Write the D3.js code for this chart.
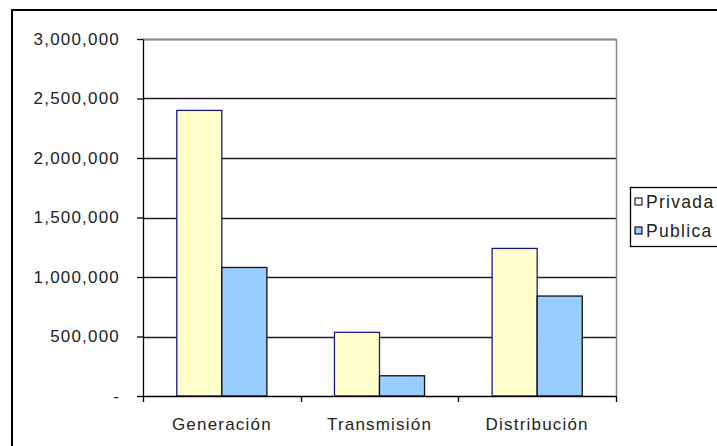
<!DOCTYPE html>
<html>
<head>
<meta charset="utf-8">
<script src="https://cdn.jsdelivr.net/npm/d3@7/dist/d3.min.js"></script>
<style>
  html, body { margin: 0; padding: 0; background: #fff; }
  svg { display: block; }
  text { font-family: "Liberation Sans", Arial, sans-serif; fill: #222; }
</style>
</head>
<body>
<svg id="chart" width="717" height="446"></svg>
<script>
// Inversión por segmento del sector eléctrico
const categories = ["Generación", "Transmisión", "Distribución"];
const seriesNames = ["Privada", "Publica"];
const privada = [2400000, 535000, 1240000];
const publica = [1080000, 170000, 840000];
const yTicks = [0, 500000, 1000000, 1500000, 2000000, 2500000, 3000000];
const seriesColors = ["#FFFFCC", "#99CCFF"];
const seriesStrokes = ["#1a1a80", "#111111"];

const svg = d3.select("#chart");
const plot = { left: 143, right: 616, top: 39, bottom: 396 };
const fontSize = 17, spacing = 1.2;

// outer chart frame (runs past the right and bottom edges)
svg.append("rect")
  .attr("x", 12).attr("y", 10)
  .attr("width", 800).attr("height", 500)
  .attr("fill", "#fff").attr("stroke", "#000").attr("stroke-width", 2);

const x0 = d3.scaleBand().domain(categories)
  .range([plot.left, plot.right]).paddingInner(0).paddingOuter(0);
const x1 = d3.scaleBand().domain(seriesNames)
  .range([0, x0.bandwidth()]).paddingInner(0).paddingOuter(0.75);
const y = d3.scaleLinear().domain([0, 3000000]).range([plot.bottom, plot.top]);

// gridlines
svg.append("g").selectAll("line").data(yTicks.slice(1)).join("line")
  .attr("x1", plot.left).attr("x2", plot.right)
  .attr("y1", d => Math.round(y(d)) + 0.5).attr("y2", d => Math.round(y(d)) + 0.5)
  .attr("stroke", "#222").attr("stroke-width", 1.3);

// plot area border (top and right)
svg.append("path")
  .attr("d", `M${plot.left},${plot.top + 0.5}H${plot.right + 0.5}V${plot.bottom}`)
  .attr("fill", "none").attr("stroke", "#8a8a8a").attr("stroke-width", 1.5);

// bars
const rows = categories.map((c, i) => ({ cat: c, vals: [privada[i], publica[i]] }));
svg.append("g").selectAll("g").data(rows).join("g")
  .attr("transform", d => `translate(${x0(d.cat)},0)`)
  .selectAll("rect").data(d => d.vals.map((v, j) => ({ name: seriesNames[j], j, v })))
  .join("rect")
  .attr("x", d => x1(d.name))
  .attr("width", x1.bandwidth())
  .attr("y", d => y(d.v))
  .attr("height", d => y(0) - y(d.v))
  .attr("fill", d => seriesColors[d.j])
  .attr("stroke", d => seriesStrokes[d.j])
  .attr("stroke-width", 1.3);

// value axis
const yAxis = d3.axisLeft(y).tickValues(yTicks)
  .tickFormat(d => d === 0 ? "-" : d3.format(",")(d))
  .tickSize(6).tickSizeOuter(0).tickPadding(17);
const gy = svg.append("g").attr("transform", `translate(${plot.left},0)`).call(yAxis);
gy.select(".domain").attr("stroke", "#000").attr("stroke-width", 1.3);
gy.selectAll(".tick line").attr("stroke", "#000").attr("stroke-width", 1.3);
gy.selectAll(".tick text")
  .style("font-size", fontSize + "px").style("letter-spacing", spacing + "px")
  .attr("fill", "#222");

// category axis
const xAxis = d3.axisBottom(x0).tickSize(0).tickPadding(0);
const gx = svg.append("g").attr("transform", `translate(0,${plot.bottom})`).call(xAxis);
gx.select(".domain").attr("stroke", "#000").attr("stroke-width", 1.3);
gx.selectAll(".tick text")
  .attr("y", 34).attr("dy", 0)
  .style("font-size", fontSize + "px").style("letter-spacing", spacing + "px")
  .attr("fill", "#222");
// category separators
gx.append("g").selectAll("line")
  .data(categories.map(c => x0(c)).concat([x0.range()[1]]))
  .join("line")
  .attr("x1", d => Math.round(d) + 0.5).attr("x2", d => Math.round(d) + 0.5)
  .attr("y1", 0).attr("y2", 6)
  .attr("stroke", "#000").attr("stroke-width", 1.3);

// legend (box runs past the right edge)
const legend = svg.append("g").attr("transform", "translate(630,187)");
legend.append("rect")
  .attr("x", 0.5).attr("y", 0.5).attr("width", 120).attr("height", 59)
  .attr("fill", "#fff").attr("stroke", "#000").attr("stroke-width", 1.3);
const items = legend.selectAll("g.item").data(seriesNames).join("g")
  .attr("class", "item")
  .attr("transform", (d, i) => `translate(0,${15 + i * 29})`);
items.append("rect")
  .attr("x", 5).attr("y", -4).attr("width", 7).attr("height", 7)
  .attr("fill", (d, i) => seriesColors[i])
  .attr("stroke", (d, i) => seriesStrokes[i]).attr("stroke-width", 1.2);
items.append("text")
  .attr("x", 16).attr("y", 6)
  .style("font-size", "17.5px").style("letter-spacing", "1.3px")
  .text(d => d);
</script>
</body>
</html>
